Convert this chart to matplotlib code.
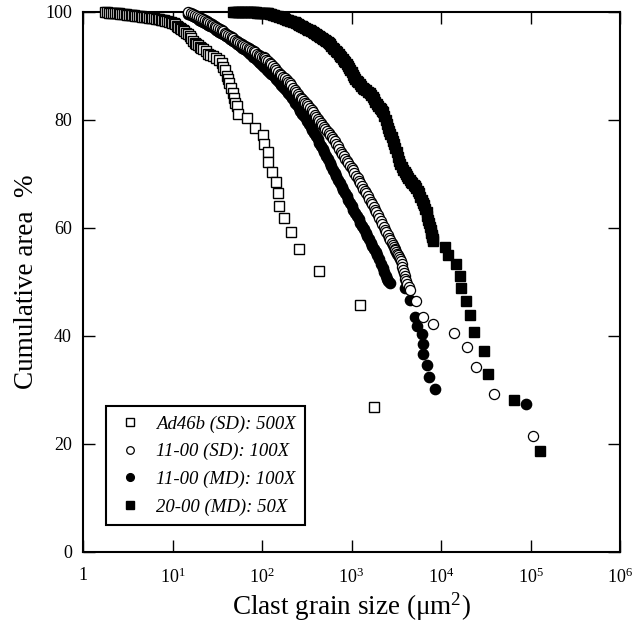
import numpy as np
import matplotlib
matplotlib.use("Agg")
import matplotlib.pyplot as plt
from matplotlib.ticker import FixedLocator, FuncFormatter, NullLocator

plt.rcParams["font.family"] = "Liberation Serif"
plt.rcParams["mathtext.fontset"] = "custom"
plt.rcParams["mathtext.rm"] = "Liberation Serif"
plt.rcParams["mathtext.it"] = "Liberation Serif:italic"

# (grain size um^2, cumulative area %)

# Ad46b (SD): 500X  -- open squares
ad46_pts = [(1.76, 100), (1.85, 99.95), (1.95, 99.9), (2.05, 99.85), (2.15, 99.8),
            (2.3, 99.8), (2.4, 99.8), (2.5, 99.75), (2.6, 99.7), (2.75, 99.65),
            (2.85, 99.6), (3.0, 99.55), (3.1, 99.5), (3.25, 99.5), (3.4, 99.5),
            (3.55, 99.45), (3.7, 99.4), (3.85, 99.35), (4.0, 99.3), (4.2, 99.25),
            (4.4, 99.2), (4.6, 99.15), (4.8, 99.1), (5.0, 99.05), (5.2, 99.0),
            (5.45, 98.95), (5.7, 98.9), (5.95, 98.85), (6.2, 98.8), (6.5, 98.75),
            (6.8, 98.7), (7.1, 98.65), (7.4, 98.6), (7.7, 98.55), (8.0, 98.5),
            (8.35, 98.4), (8.7, 98.3), (9.1, 98.2), (9.5, 98.1), (9.9, 98.0),
            (10.3, 97.9), (10.7, 97.7), (11.2, 97.5), (11.6, 97.25), (12.1, 97.0),
            (12.6, 96.8), (13.1, 96.6), (13.6, 96.4), (14.2, 96.2), (14.8, 95.9),
            (15.5, 95.6), (16.2, 95.1), (16.9, 94.6), (17.7, 94.35), (18.5, 94.1),
            (19.3, 93.85), (20.2, 93.6), (21.0, 93.4), (21.9, 93.2), (23.5, 92.7),
            (24.9, 92.3), (26.5, 92.1), (28.2, 91.8), (31, 91.4), (33, 91.1),
            (35.3, 90.6), (37, 89.8), (38.6, 89.2), (40.2, 88.2), (41.5, 87.6),
            (43.1, 86.8), (45, 85.9), (46.9, 85.0), (48.5, 84.0), (50.5, 83.2),
            (51.9, 82.5), (54.2, 81.2), (67.4, 80.3), (83.7, 78.5), (103, 77.2),
            (105, 75.6), (117, 74.0), (117, 72.3), (130, 70.4), (143, 68.6),
            (149, 66.4), (153, 64.1), (176, 61.8), (210, 59.2), (260, 56.1),
            (432, 52.0), (1250, 45.7), (1765, 26.9)]

# 11-00 (SD): 100X  -- open circles
sd11_pts = [(15, 100.0), (16, 99.8), (17, 99.6), (18, 99.4), (19, 99.25), (20, 99.1),
            (21, 98.9), (22, 98.7), (23, 98.5), (24, 98.3), (25, 98.15), (26, 98.0),
            (27.3, 97.8), (28.5, 97.6), (30, 97.4), (31, 97.2), (32.5, 97.0), (34, 96.8),
            (35.5, 96.6), (37, 96.4), (38.5, 96.2), (40, 96.0), (42, 95.8), (44, 95.6),
            (46, 95.35), (48, 95.1), (50, 94.9), (52, 94.7), (54.5, 94.45), (57, 94.2),
            (59.5, 94.05), (62, 93.9), (65, 93.7), (68, 93.5), (71, 93.3), (74, 93.1),
            (77.5, 92.9), (81, 92.7), (84.5, 92.5), (88, 92.3), (92, 92.1), (96, 91.9),
            (100, 91.75), (104, 91.6), (108, 91.4), (112, 91.2), (117, 90.9), (122, 90.6),
            (127, 90.3), (133, 90.0), (139, 89.65), (145, 89.3), (151, 88.95), (158, 88.6),
            (165, 88.3), (172, 88.0), (180, 87.7), (188, 87.4), (196, 87.1), (205, 86.8),
            (213, 86.4), (222, 86.0), (231, 85.6), (240, 85.2), (250, 84.85), (260, 84.5),
            (271, 84.15), (282, 83.8), (293, 83.5), (305, 83.2), (317, 82.9), (330, 82.6),
            (344, 82.2), (358, 81.8), (373, 81.4), (388, 81.0), (404, 80.6), (420, 80.2),
            (437, 79.8), (455, 79.4), (473, 79.05), (492, 78.7), (512, 78.35), (532, 78.0),
            (555, 77.65), (578, 77.3), (601, 76.9), (625, 76.5), (650, 76.05), (675, 75.6),
            (702, 75.1), (730, 74.6), (760, 74.15), (790, 73.7), (822, 73.25), (855, 72.8),
            (890, 72.4), (925, 72.0), (962, 71.55), (1000, 71.1), (1040, 70.65), (1080, 70.2),
            (1125, 69.7), (1170, 69.2), (1215, 68.75), (1260, 68.3), (1310, 67.8), (1360, 67.3),
            (1415, 66.85), (1470, 66.4), (1525, 65.9), (1580, 65.4), (1640, 64.9), (1700, 64.4),
            (1765, 63.9), (1830, 63.4), (1900, 62.9), (1970, 62.4), (2045, 61.85), (2120, 61.3),
            (2200, 60.75), (2280, 60.2), (2365, 59.7), (2450, 59.2), (2540, 58.7), (2630, 58.2),
            (2715, 57.7), (2800, 57.2), (2875, 56.85), (2950, 56.5), (3025, 56.2), (3100, 55.9),
            (3175, 55.55), (3250, 55.2), (3325, 54.95), (3400, 54.7), (3475, 54.3), (3550, 53.9),
            (3625, 53.35), (3700, 52.8), (3775, 52.2), (3850, 51.6), (3925, 51.1), (4000, 50.6),
            (4100, 50.1), (4200, 49.6), (4340, 49.05), (4480, 48.5),
            (5310, 46.4), (6300, 43.6), (8190, 42.2), (13800, 40.6), (19300, 38.0),
            (24300, 34.2), (39400, 29.3), (108000, 21.5)]

# 11-00 (MD): 100X  -- filled circles
md11_pts = [(15, 99.6), (16, 99.4), (17, 99.2), (18, 99.0), (19, 98.8), (20, 98.6),
            (21, 98.4), (22, 98.2), (23, 98.0), (24, 97.8), (25, 97.6), (26.5, 97.4),
            (28, 97.15), (29, 96.95), (30.5, 96.75), (32, 96.55), (33.5, 96.35), (35, 96.15),
            (37, 95.9), (38.5, 95.7), (40, 95.5), (42, 95.3), (44, 95.05), (46, 94.8),
            (48, 94.6), (50, 94.4), (52.5, 94.15), (55, 93.9), (57.5, 93.65), (60, 93.4),
            (63, 93.15), (66, 92.9), (69.5, 92.6), (73, 92.3), (76.5, 92.0), (80, 91.7),
            (84, 91.4), (88, 91.1), (92, 90.8), (96, 90.5), (100, 90.2), (105, 89.9),
            (110, 89.6), (115, 89.3), (120, 88.95), (126, 88.6), (132, 88.25), (138, 87.9),
            (144, 87.55), (151, 87.2), (158, 86.85), (165, 86.5), (172, 86.15), (180, 85.8),
            (188, 85.4), (197, 85.0), (206, 84.55), (215, 84.1), (225, 83.65), (235, 83.2),
            (246, 82.7), (257, 82.2), (269, 81.7), (281, 81.2), (294, 80.75), (307, 80.3),
            (321, 79.8), (335, 79.3), (350, 78.75), (366, 78.2), (383, 77.6), (400, 77.0),
            (418, 76.4), (437, 75.8), (457, 75.2), (477, 74.6), (498, 74.0), (520, 73.4),
            (544, 72.75), (568, 72.1), (594, 71.45), (620, 70.8), (648, 70.2), (677, 69.6),
            (708, 68.95), (740, 68.3), (774, 67.65), (808, 67.0), (845, 66.45), (882, 65.9),
            (922, 65.25), (963, 64.6), (1005, 64.0), (1050, 63.4), (1100, 62.8), (1150, 62.2),
            (1200, 61.6), (1255, 61.0), (1310, 60.4), (1370, 59.8), (1435, 59.15), (1500, 58.5),
            (1570, 57.9), (1640, 57.3), (1715, 56.75), (1790, 56.2), (1870, 55.6), (1950, 55.0),
            (2040, 54.2), (2130, 53.4), (2225, 52.6), (2320, 51.8), (2410, 51.2), (2500, 50.6),
            (2590, 50.2), (2680, 49.8),
            (3930, 48.8), (4480, 46.7), (5100, 43.6), (5400, 41.9), (6100, 40.3), (6240, 38.5),
            (6300, 36.6), (7060, 34.6), (7400, 32.5), (8500, 30.1), (89000, 27.5)]

# 20-00 (MD): 50X  -- filled squares
md20_pts = [(48, 100), (50, 100), (52, 100), (54, 100), (56, 100), (58, 100), (60, 100),
            (62.5, 100), (65, 100), (67.5, 100), (70, 100), (73, 100), (76, 100), (79, 100),
            (82, 100), (85.5, 99.95), (89, 99.9), (92.5, 99.9), (96, 99.9), (100, 99.85),
            (104, 99.8), (108.5, 99.8), (113, 99.8), (117.5, 99.75), (122, 99.7), (127, 99.6),
            (132, 99.5), (137.5, 99.4), (143, 99.3), (149, 99.2), (155, 99.1), (161.5, 99.0),
            (168, 98.9), (175, 98.8), (182, 98.7), (189.5, 98.6), (197, 98.5), (205, 98.4),
            (213, 98.3), (222, 98.2), (231, 98.1), (240.5, 97.95), (250, 97.8), (260, 97.65),
            (270, 97.5), (280, 97.35), (290, 97.2), (302, 97.05), (315, 96.9), (327, 96.75),
            (340, 96.6), (354, 96.45), (368, 96.3), (383, 96.15), (398, 96.0), (414, 95.8),
            (430, 95.6), (447, 95.4), (465, 95.2), (484, 95.0), (503, 94.8), (523, 94.6),
            (544, 94.4), (560, 94.2), (575, 94.0), (597, 93.7), (620, 93.4), (645, 93.1),
            (670, 92.8), (695, 92.5), (720, 92.2), (745, 91.9), (770, 91.6), (797, 91.3),
            (825, 91.0), (852, 90.7), (880, 90.4), (910, 90.0), (940, 89.6), (970, 89.2),
            (1000, 88.8), (1035, 88.4), (1070, 88.0), (1105, 87.65), (1140, 87.3), (1190, 86.95),
            (1240, 86.6), (1290, 86.3), (1340, 86.0), (1395, 85.75), (1450, 85.5), (1525, 85.25),
            (1600, 85.0), (1660, 84.6), (1720, 84.2), (1785, 83.8), (1850, 83.4), (1925, 83.0),
            (2000, 82.6), (2060, 82.3), (2120, 82.0), (2185, 81.7), (2250, 81.4), (2325, 80.7),
            (2400, 80.0), (2475, 79.3), (2550, 78.6), (2625, 78.0), (2700, 77.4), (2815, 76.8),
            (2930, 76.2), (3015, 75.5), (3100, 74.8), (3200, 74.0), (3300, 73.2), (3400, 72.5),
            (3500, 71.8), (3650, 71.25), (3800, 70.7), (3925, 70.35), (4050, 70.0), (4175, 69.65),
            (4300, 69.3), (4450, 68.95), (4600, 68.6), (4775, 68.3), (4950, 68.0), (5130, 67.7),
            (5310, 67.4), (5500, 66.9), (5700, 66.4), (5900, 65.8), (6100, 65.2), (6300, 64.7),
            (6500, 64.2), (6700, 63.6), (6900, 63.0), (7050, 62.25), (7200, 61.5), (7350, 60.85),
            (7500, 60.2), (7650, 59.6), (7800, 59.0), (7900, 58.65), (8000, 58.3), (8100, 57.95),
            (8190, 57.6),
            (11100, 56.5), (12100, 55.0), (14800, 53.3), (16400, 51.1), (16700, 48.8),
            (19000, 46.5), (21200, 43.8), (23300, 40.7), (30400, 37.3), (33500, 33.0),
            (65500, 28.1), (127000, 18.7)]

fig = plt.figure(figsize=(6.34, 6.28), dpi=100)
ax = fig.add_axes([83 / 634, 76 / 628, 537 / 634, 540 / 628])


def xy(pts):
    return [p[0] for p in pts], [p[1] for p in pts]


x, y = xy(ad46_pts)
ax.plot(x, y, ls="none", marker="s", ms=7.2, mfc="white", mec="black",
        mew=1.0, clip_on=False, zorder=3, label="Ad46b (SD): 500X")
x, y = xy(sd11_pts)
ax.plot(x, y, ls="none", marker="o", ms=7.3, mfc="white", mec="black",
        mew=0.9, clip_on=False, zorder=3, label="11-00 (SD): 100X")
x, y = xy(md11_pts)
ax.plot(x, y, ls="none", marker="o", ms=7.4, mfc="black", mec="black",
        clip_on=False, zorder=2, label="11-00 (MD): 100X")
x, y = xy(md20_pts)
ax.plot(x, y, ls="none", marker="s", ms=7.6, mfc="black", mec="black",
        clip_on=False, zorder=2, label="20-00 (MD): 50X")

ax.set_xscale("log")
ax.set_xlim(1, 1e6)
ax.set_ylim(0, 100)
ax.xaxis.set_major_locator(FixedLocator([1, 1e1, 1e2, 1e3, 1e4, 1e5, 1e6]))
ax.xaxis.set_minor_locator(NullLocator())
ax.xaxis.set_major_formatter(FuncFormatter(
    lambda v, p: "1" if v == 1 else r"$10^{%d}$" % int(round(np.log10(v)))))
ax.set_yticks([0, 20, 40, 60, 80, 100])

for s in ax.spines.values():
    s.set_linewidth(1.5)
ax.tick_params(direction="in", top=True, right=True, length=8.5, width=1.0,
               labelsize=13)
ax.tick_params(axis="x", pad=11)
ax.tick_params(axis="y", pad=8)

ax.set_xlabel("Clast grain size (μm$^2$)", fontsize=19.5, labelpad=3)
ax.set_ylabel("Cumulative area  %", fontsize=19.5, labelpad=4)

leg = ax.legend(loc="lower left", bbox_to_anchor=(0.043, 0.05), borderaxespad=0,
                prop={"style": "italic", "size": 13.5}, frameon=True, fancybox=False,
                edgecolor="black", framealpha=1, markerscale=0.75,
                handlelength=1.6, handletextpad=0.55, labelspacing=0.55,
                borderpad=0.5)
leg.get_frame().set_linewidth(1.5)

fig.savefig("out.png", dpi=100, facecolor="white")
